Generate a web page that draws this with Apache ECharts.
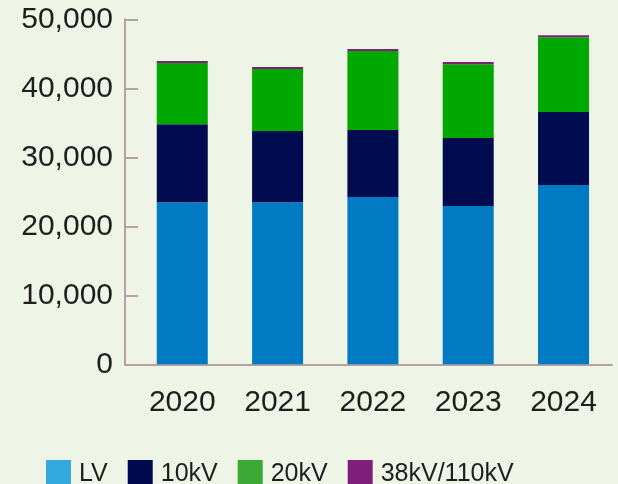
<!DOCTYPE html>
<html>
<head>
<meta charset="utf-8">
<script src="https://cdn.jsdelivr.net/npm/echarts@6/dist/echarts.min.js"></script>
<style>
  html, body { margin: 0; padding: 0; background: #eef5e6; }
  #chart { width: 618px; height: 484px; }
</style>
</head>
<body>
<div id="chart"></div>
<script>
// data
const years = ['2020', '2021', '2022', '2023', '2024']
const lv = [23500, 23500, 24250, 22950, 26000]
const kv10 = [11300, 10300, 9700, 9850, 10550]
const kv20 = [8850, 9000, 11450, 10700, 10850]
const kv38 = [300, 300, 300, 300, 300]
const yTicks = [0, 10000, 20000, 30000, 40000, 50000]

const seriesNames = ['LV', '10kV', '20kV', '38kV/110kV']
const barColors = ['#007bc3', '#000b50', '#00a800', '#7f1f7a']
const legendColors = ['#34a9df', '#000b4f', '#3aa935', '#7f1f7a']

const axisColor = '#b4a2a2'
const textColor = '#1e1e1e'
const font = '"Liberation Sans", Arial, sans-serif'

const chart = echarts.init(document.getElementById('chart'))

const yMin = yTicks[0]
const yMax = yTicks[yTicks.length - 1]
const yStep = yTicks[1] - yTicks[0]

const option = {
  backgroundColor: '#eef5e6',
  animation: false,
  legend: {
    left: 41,
    top: 455,
    itemWidth: 25,
    itemHeight: 28,
    itemGap: 20,
    icon: 'rect',
    textStyle: { fontFamily: font, fontSize: 25, color: textColor, padding: [0, 0, 0, 3] },
    data: seriesNames.map((name, i) => ({
      name,
      itemStyle: { color: legendColors[i] }
    }))
  },
  // grid 0 only draws the axis frame, grid 1 holds the bars
  grid: [
    { left: 125, right: 6, top: 19.3, bottom: 119.7 },
    { left: 134.6, right: 6.8, top: 19.3, bottom: 119.7 }
  ],
  xAxis: [
    {
      gridIndex: 0,
      type: 'value',
      min: 0,
      max: 1,
      splitLine: { show: false },
      axisLabel: { show: false },
      axisTick: { show: false },
      axisLine: { show: true, lineStyle: { color: axisColor, width: 2 } }
    },
    {
      gridIndex: 1,
      type: 'category',
      data: years,
      axisLine: { show: false },
      axisTick: { show: false },
      axisLabel: { margin: 23, fontFamily: font, fontSize: 30, color: textColor }
    }
  ],
  yAxis: [
    {
      gridIndex: 0,
      type: 'value',
      min: yMin,
      max: yMax,
      interval: yStep,
      splitLine: { show: false },
      axisLine: { show: true, lineStyle: { color: axisColor, width: 2 } },
      axisTick: { show: true, inside: true, length: 13, lineStyle: { color: axisColor, width: 2 } },
      axisLabel: {
        margin: 12,
        fontFamily: font,
        fontSize: 30,
        color: textColor,
        formatter: v => v.toLocaleString('en-US')
      }
    },
    {
      gridIndex: 1,
      type: 'value',
      min: yMin,
      max: yMax,
      show: false
    }
  ],
  series: [lv, kv10, kv20, kv38].map((data, i) => ({
    name: seriesNames[i],
    type: 'bar',
    stack: 'total',
    xAxisIndex: 1,
    yAxisIndex: 1,
    barWidth: 51,
    data,
    itemStyle: { color: barColors[i] }
  }))
}

chart.setOption(option)
</script>
</body>
</html>
